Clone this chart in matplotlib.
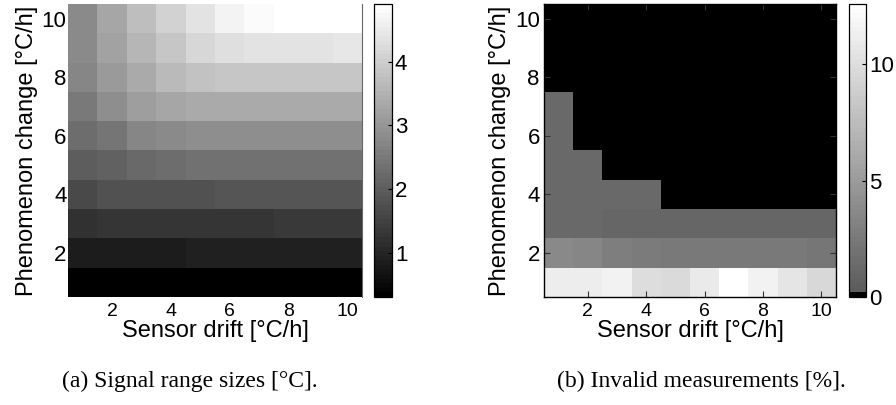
import numpy as np
import matplotlib
matplotlib.use("Agg")
import matplotlib.pyplot as plt
from matplotlib.colors import ListedColormap

# Axis values (°C/h)
sensor_drift = [1, 2, 3, 4, 5, 6, 7, 8, 9, 10]
phenomenon_change = [1, 2, 3, 4, 5, 6, 7, 8, 9, 10]

# Signal range sizes [°C]; one row per phenomenon change (1 .. 10), columns = sensor drift
range_1 = [0.30, 0.30, 0.30, 0.30, 0.30, 0.30, 0.30, 0.30, 0.30, 0.30]
range_2 = [0.81, 0.81, 0.81, 0.81, 0.88, 0.88, 0.88, 0.88, 0.88, 0.88]
range_3 = [1.17, 1.24, 1.24, 1.24, 1.24, 1.24, 1.24, 1.31, 1.31, 1.31]
range_4 = [1.60, 1.75, 1.75, 1.75, 1.75, 1.82, 1.82, 1.82, 1.82, 1.82]
range_5 = [1.96, 2.04, 2.22, 2.25, 2.33, 2.33, 2.33, 2.33, 2.33, 2.33]
range_6 = [2.25, 2.40, 2.69, 2.76, 2.83, 2.83, 2.83, 2.83, 2.83, 2.83]
range_7 = [2.51, 2.83, 3.12, 3.27, 3.34, 3.34, 3.34, 3.34, 3.34, 3.34]
range_8 = [2.69, 3.08, 3.37, 3.66, 3.81, 3.88, 3.88, 3.88, 3.88, 3.88]
range_9 = [2.76, 3.23, 3.59, 3.88, 4.17, 4.28, 4.35, 4.35, 4.35, 4.42]
range_10 = [2.80, 3.30, 3.74, 4.10, 4.39, 4.64, 4.78, 4.90, 4.90, 4.90]

# Invalid measurements [%]
invalid_1 = [11.22, 11.08, 11.54, 10.04, 9.74, 10.93, 12.50, 11.54, 10.63, 9.59]
invalid_2 = [3.74, 3.45, 2.85, 2.56, 2.40, 2.40, 2.40, 2.40, 2.40, 2.26]
invalid_3 = [1.35, 1.35, 1.10, 1.10, 1.10, 1.10, 1.10, 1.10, 1.10, 1.10]
invalid_4 = [1.20, 1.20, 1.20, 1.20, 0.00, 0.00, 0.00, 0.00, 0.00, 0.00]
invalid_5 = [1.30, 1.25, 0.00, 0.00, 0.00, 0.00, 0.00, 0.00, 0.00, 0.00]
invalid_6 = [1.30, 0.00, 0.00, 0.00, 0.00, 0.00, 0.00, 0.00, 0.00, 0.00]
invalid_7 = [1.30, 0.00, 0.00, 0.00, 0.00, 0.00, 0.00, 0.00, 0.00, 0.00]
invalid_8 = [0.00] * 10
invalid_9 = [0.00] * 10
invalid_10 = [0.00] * 10

range_ticks = [1, 2, 3, 4]
invalid_ticks = [0, 5, 10]
axis_ticks = [2, 4, 6, 8, 10]

ranges = np.array([range_1, range_2, range_3, range_4, range_5,
                   range_6, range_7, range_8, range_9, range_10])
invalid = np.array([invalid_1, invalid_2, invalid_3, invalid_4, invalid_5,
                    invalid_6, invalid_7, invalid_8, invalid_9, invalid_10])

plt.rcParams['font.family'] = ['Liberation Sans', 'DejaVu Sans']

# 64-level gray map, and a variant whose lowest entry is black and the rest start at mid gray
gray64 = ListedColormap(np.repeat(np.linspace(0, 1, 64)[:, None], 3, axis=1))
g = np.concatenate([[0.0], np.linspace(0.36, 1.0, 63)])
gray_zero = ListedColormap(np.repeat(g[:, None], 3, axis=1))

W, H = 896, 405
fig = plt.figure(figsize=(W / 100, H / 100), dpi=100)


def box(x0, x1, y0, y1):
    return [x0 / W, 1 - y1 / H, (x1 - x0) / W, (y1 - y0) / H]


ax1 = fig.add_axes(box(68, 362, 4, 297))
cax1 = fig.add_axes(box(374, 392, 4, 297))
ax2 = fig.add_axes(box(544, 836, 4, 297))
cax2 = fig.add_axes(box(849, 866, 4, 297))

edges = np.arange(0.5, 11.0, 1.0)
m1 = ax1.pcolormesh(edges, edges, ranges, cmap=gray64, vmin=0.30, vmax=4.91)
m2 = ax2.pcolormesh(edges, edges, invalid, cmap=gray_zero, vmin=0.0, vmax=12.6)

for ax in (ax1, ax2):
    ax.set_xlim(0.5, 10.5)
    ax.set_ylim(0.5, 10.5)
    ax.set_xticks(axis_ticks)
    ax.set_yticks(axis_ticks)
    ax.set_xlabel('Sensor drift [°C/h]', fontsize=17, labelpad=0)
    ax.set_ylabel('Phenomenon change [°C/h]', fontsize=17, labelpad=3)
    ax.tick_params(axis='x', labelsize=14, pad=4)
    ax.tick_params(axis='y', labelsize=16, pad=1)

# left panel: no visible frame or tick marks
ax1.tick_params(length=0)
for side in ('left', 'top', 'bottom'):
    ax1.spines[side].set_visible(False)
ax1.spines['right'].set_color('#666666')
ax1.spines['right'].set_linewidth(0.8)

# right panel: black frame with inward ticks on all sides
ax2.tick_params(direction='in', length=4, width=0.8, top=True, right=True,
                color='#333333')
ax2.tick_params(axis='x', pad=4)
ax2.tick_params(axis='y', pad=3)
for s in ax2.spines.values():
    s.set_linewidth(1.0)
    s.set_color('black')

cb1 = fig.colorbar(m1, cax=cax1, ticks=range_ticks)
cb2 = fig.colorbar(m2, cax=cax2, ticks=invalid_ticks)
for cb in (cb1, cb2):
    cb.outline.set_linewidth(0.9)
    cb.ax.tick_params(direction='in', length=3, width=0.8, labelsize=16, pad=2)

fig.text(190 / W, 1 - 381 / H, '(a) Signal range sizes [°C].',
         ha='center', va='center', fontsize=17, family='Liberation Serif')
fig.text(701 / W, 1 - 381 / H, '(b) Invalid measurements [%].',
         ha='center', va='center', fontsize=17, family='Liberation Serif')

fig.savefig('out.png', dpi=100)
